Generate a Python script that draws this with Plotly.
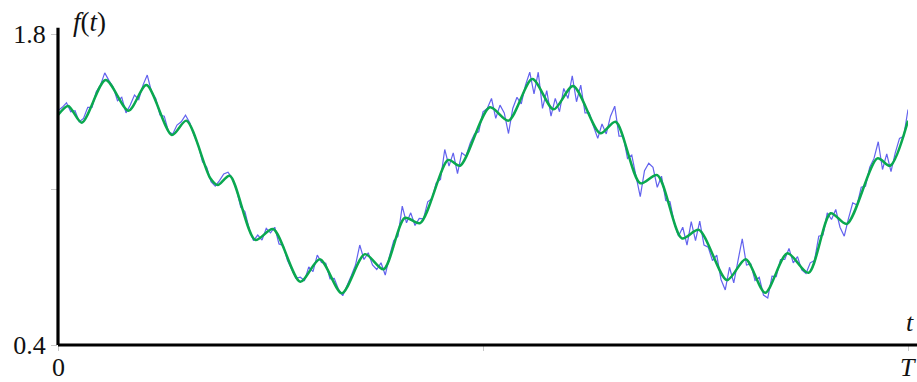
import numpy as np
import plotly.graph_objects as go

# Smooth reconstruction f(t): turning points of the fitted curve (t in units of T)
smooth_t = [0.000, 0.012, 0.028, 0.056, 0.083, 0.104, 0.134, 0.151, 0.179, 0.188,
            0.202, 0.232, 0.253, 0.285, 0.308, 0.334, 0.361, 0.383, 0.408, 0.426,
            0.459, 0.473, 0.508, 0.530, 0.558, 0.583, 0.606, 0.638, 0.656, 0.685,
            0.705, 0.734, 0.754, 0.787, 0.809, 0.832, 0.858, 0.883, 0.909, 0.928,
            0.964, 0.979, 1.000]
smooth_f = [1.435, 1.476, 1.401, 1.593, 1.455, 1.570, 1.345, 1.410, 1.152, 1.120,
            1.162, 0.873, 0.922, 0.685, 0.786, 0.633, 0.809, 0.741, 0.972, 0.949,
            1.233, 1.207, 1.470, 1.410, 1.597, 1.461, 1.566, 1.353, 1.405, 1.128,
            1.165, 0.880, 0.918, 0.692, 0.786, 0.635, 0.813, 0.725, 0.993, 0.945,
            1.240, 1.207, 1.410]

# Noisy observed signal, sampled every 0.005 T
noisy_f = [
    1.455, 1.470, 1.490, 1.450, 1.455, 1.405, 1.420, 1.470, 1.470, 1.540,
    1.570, 1.625, 1.590, 1.560, 1.500, 1.515, 1.445, 1.480, 1.525, 1.505,
    1.570, 1.615, 1.540, 1.510, 1.435, 1.430, 1.360, 1.350, 1.390, 1.405,
    1.435, 1.400, 1.345, 1.300, 1.225, 1.200, 1.135, 1.115, 1.140, 1.170,
    1.178, 1.150, 1.100, 1.020, 1.000, 0.920, 0.870, 0.895, 0.872, 0.925,
    0.905, 0.930, 0.855, 0.848, 0.780, 0.740, 0.700, 0.705, 0.690, 0.752,
    0.730, 0.805, 0.772, 0.768, 0.698, 0.700, 0.650, 0.622, 0.665, 0.712,
    0.760, 0.850, 0.785, 0.815, 0.760, 0.740, 0.770, 0.715, 0.800, 0.870,
    0.890, 1.025, 0.950, 0.995, 0.938, 0.970, 0.968, 1.045, 1.060, 1.130,
    1.145, 1.280, 1.205, 1.265, 1.172, 1.265, 1.250, 1.310, 1.350, 1.360,
    1.450, 1.465, 1.510, 1.420, 1.480, 1.445, 1.352, 1.465, 1.515, 1.485,
    1.570, 1.628, 1.530, 1.628, 1.465, 1.545, 1.430, 1.510, 1.450, 1.555,
    1.510, 1.612, 1.495, 1.570, 1.445, 1.445, 1.385, 1.330, 1.395, 1.350,
    1.430, 1.475, 1.340, 1.340, 1.240, 1.255, 1.160, 1.068, 1.185, 1.218,
    1.200, 1.110, 1.160, 1.050, 1.045, 0.950, 0.890, 0.930, 0.850, 0.955,
    0.870, 0.958, 0.850, 0.840, 0.780, 0.805, 0.695, 0.648, 0.750, 0.680,
    0.780, 0.878, 0.760, 0.765, 0.690, 0.705, 0.625, 0.612, 0.710, 0.708,
    0.785, 0.785, 0.835, 0.770, 0.798, 0.738, 0.722, 0.770, 0.780, 0.890,
    0.895, 0.995, 0.965, 1.010, 0.930, 0.890, 0.970, 1.040, 1.030, 1.110,
    1.115, 1.200, 1.240, 1.315, 1.190, 1.260, 1.180, 1.265, 1.330, 1.340,
    1.460,
]
noisy_t = np.linspace(0.0, 1.0, len(noisy_f))

y_ticks = [0.4, 1.1, 1.8]
y_tick_text = ["0.4", "", "1.8"]
x_ticks = [0.0, 0.5, 1.0]
x_tick_text = ["0", "", "<i>T</i>"]

SERIF = "Liberation Serif"
TXT = "#111"

fig = go.Figure()
fig.add_trace(go.Scatter(
    x=noisy_t, y=noisy_f, mode="lines",
    line=dict(color="rgba(70,70,235,0.85)", width=1.2),
    hoverinfo="skip", showlegend=False,
))
fig.add_trace(go.Scatter(
    x=smooth_t, y=smooth_f, mode="lines",
    line=dict(color="#0aa84f", width=2.5, shape="spline", smoothing=0.8),
    hoverinfo="skip", showlegend=False,
))

# x tick marks only; their labels are placed as annotations just below the axis
fig.update_xaxes(
    range=[0, 1], tickvals=x_ticks, showticklabels=False,
    ticks="outside", ticklen=5, tickwidth=1, tickcolor="#c8c8c8",
    showgrid=False, zeroline=False, showline=False, automargin=False,
)
fig.update_yaxes(
    range=[0.4, 1.8], tickvals=y_ticks, ticktext=y_tick_text,
    ticks="outside", ticklen=6, tickwidth=1, tickcolor="#c8c8c8",
    showgrid=False, zeroline=False, showline=False, automargin=False,
    tickfont=dict(family=SERIF, size=26, color=TXT),
)
for xv, label in zip(x_ticks, x_tick_text):
    if label:
        fig.add_annotation(text=label, x=xv, xref="x", y=-0.072, yref="paper",
                           xanchor="center", yanchor="middle", showarrow=False,
                           font=dict(family=SERIF, size=26, color=TXT))

# Heavy black axes: vertical one rises a little above the top tick,
# horizontal one runs off to the right edge of the page.
fig.add_shape(type="line", xref="paper", yref="paper",
              x0=0, x1=0, y0=0, y1=1.02,
              line=dict(color="black", width=3.2))
fig.add_shape(type="line", xref="paper", yref="paper",
              x0=0, x1=1.02, y0=0, y1=0,
              line=dict(color="black", width=3.2))

fig.add_annotation(text="<i>f</i>(<i>t</i>)", xref="paper", yref="paper",
                   x=0.015, y=0.985, xanchor="left", yanchor="bottom",
                   showarrow=False, font=dict(family=SERIF, size=27, color=TXT))
fig.add_annotation(text="<i>t</i>", xref="paper", yref="paper",
                   x=1.0095, y=0.02, xanchor="right", yanchor="bottom",
                   showarrow=False, font=dict(family=SERIF, size=26, color=TXT))

fig.update_layout(
    width=917, height=382,
    margin=dict(l=58, r=9, t=34, b=37),
    paper_bgcolor="white", plot_bgcolor="white",
)

fig.write_html("out.html")
